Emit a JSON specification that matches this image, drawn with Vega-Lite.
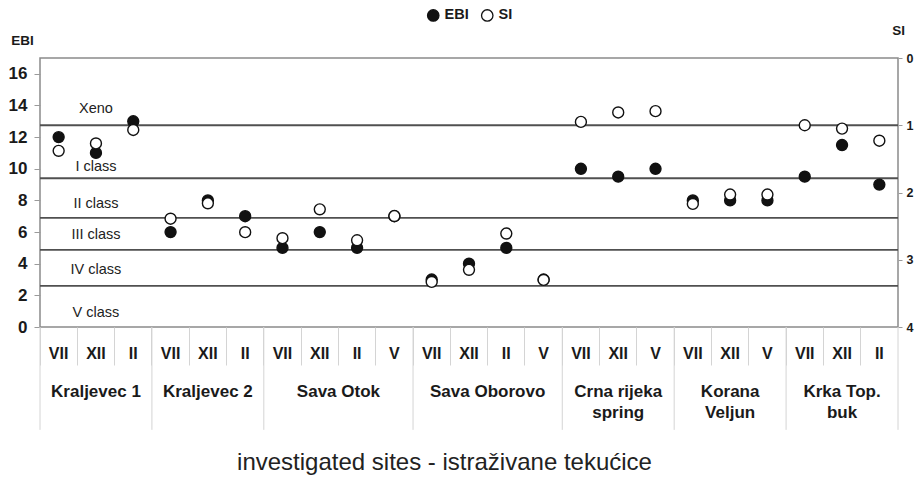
{
  "$schema": "https://vega.github.io/schema/vega-lite/v6.json",
  "width": 858,
  "height": 269,
  "autosize": "none",
  "padding": {"left": 40, "top": 58, "right": 18, "bottom": 155},
  "config": {
    "view": {"stroke": "#8a8a8a", "strokeWidth": 1.5},
    "font": "Liberation Sans",
    "axis": {"grid": false}
  },
  "datasets": {
    "samples": [
      {"col": 1, "site": "Kraljevec 1", "month": "VII", "sample": "Kraljevec 1|VII", "EBI": 12, "SI": 1.38},
      {"col": 2, "site": "Kraljevec 1", "month": "XII", "sample": "Kraljevec 1|XII", "EBI": 11, "SI": 1.27},
      {"col": 3, "site": "Kraljevec 1", "month": "II", "sample": "Kraljevec 1|II", "EBI": 13, "SI": 1.07},
      {"col": 4, "site": "Kraljevec 2", "month": "VII", "sample": "Kraljevec 2|VII", "EBI": 6, "SI": 2.39},
      {"col": 5, "site": "Kraljevec 2", "month": "XII", "sample": "Kraljevec 2|XII", "EBI": 8, "SI": 2.16},
      {"col": 6, "site": "Kraljevec 2", "month": "II", "sample": "Kraljevec 2|II", "EBI": 7, "SI": 2.59},
      {"col": 7, "site": "Sava Otok", "month": "VII", "sample": "Sava Otok|VII", "EBI": 5, "SI": 2.68},
      {"col": 8, "site": "Sava Otok", "month": "XII", "sample": "Sava Otok|XII", "EBI": 6, "SI": 2.25},
      {"col": 9, "site": "Sava Otok", "month": "II", "sample": "Sava Otok|II", "EBI": 5, "SI": 2.71},
      {"col": 10, "site": "Sava Otok", "month": "V", "sample": "Sava Otok|V", "EBI": 7, "SI": 2.35},
      {"col": 11, "site": "Sava  Oborovo", "month": "VII", "sample": "Sava  Oborovo|VII", "EBI": 3, "SI": 3.33},
      {"col": 12, "site": "Sava  Oborovo", "month": "XII", "sample": "Sava  Oborovo|XII", "EBI": 4, "SI": 3.15},
      {"col": 13, "site": "Sava  Oborovo", "month": "II", "sample": "Sava  Oborovo|II", "EBI": 5, "SI": 2.61},
      {"col": 14, "site": "Sava  Oborovo", "month": "V", "sample": "Sava  Oborovo|V", "EBI": 3, "SI": 3.3},
      {"col": 15, "site": "Crna rijeka\nspring", "month": "VII", "sample": "Crna rijeka spring|VII", "EBI": 10, "SI": 0.95},
      {"col": 16, "site": "Crna rijeka\nspring", "month": "XII", "sample": "Crna rijeka spring|XII", "EBI": 9.5, "SI": 0.81},
      {"col": 17, "site": "Crna rijeka\nspring", "month": "V", "sample": "Crna rijeka spring|V", "EBI": 10, "SI": 0.79},
      {"col": 18, "site": "Korana\nVeljun", "month": "VII", "sample": "Korana Veljun|VII", "EBI": 8, "SI": 2.17},
      {"col": 19, "site": "Korana\nVeljun", "month": "XII", "sample": "Korana Veljun|XII", "EBI": 8, "SI": 2.03},
      {"col": 20, "site": "Korana\nVeljun", "month": "V", "sample": "Korana Veljun|V", "EBI": 8, "SI": 2.03},
      {"col": 21, "site": "Krka Top.\nbuk", "month": "VII", "sample": "Krka Top. buk|VII", "EBI": 9.5, "SI": 1.0},
      {"col": 22, "site": "Krka Top.\nbuk", "month": "XII", "sample": "Krka Top. buk|XII", "EBI": 11.5, "SI": 1.05},
      {"col": 23, "site": "Krka Top.\nbuk", "month": "II", "sample": "Krka Top. buk|II", "EBI": 9, "SI": 1.23}
    ],
    "bounds": [
      {"EBI": 12.75}, {"EBI": 9.4}, {"EBI": 6.9}, {"EBI": 4.88}, {"EBI": 2.6}
    ],
    "classes": [
      {"label": "Xeno", "EBI": 13.8},
      {"label": "I class", "EBI": 10.1},
      {"label": "II class", "EBI": 7.8},
      {"label": "III class", "EBI": 5.8},
      {"label": "IV class", "EBI": 3.6},
      {"label": "V class", "EBI": 0.9}
    ]
  },
  "layer": [
    {
      "data": {"name": "bounds"},
      "mark": {"type": "rule", "color": "#505050", "strokeWidth": 1.8},
      "encoding": {
        "y": {"field": "EBI", "type": "quantitative", "scale": {"domain": [0, 17], "nice": false, "zero": false}, "axis": null}
      }
    },
    {
      "data": {"name": "classes"},
      "mark": {"type": "text", "fontSize": 14.5, "color": "#222222", "align": "center", "baseline": "middle"},
      "encoding": {
        "x": {"datum": 1.5, "type": "quantitative", "scale": {"domain": [0, 23], "nice": false, "zero": false}, "axis": null},
        "y": {"field": "EBI", "type": "quantitative", "scale": {"domain": [0, 17], "nice": false, "zero": false}, "axis": null},
        "text": {"field": "label"}
      }
    },
    {
      "data": {"name": "samples"},
      "transform": [
        {"aggregate": [{"op": "mean", "field": "col", "as": "center"}], "groupby": ["site"]}
      ],
      "mark": {"type": "text", "fontSize": 17, "fontWeight": "bold", "color": "#1a1a1a", "align": "center", "baseline": "top", "lineBreak": "\n", "lineHeight": 21},
      "encoding": {
        "x": {"field": "center", "type": "quantitative", "scale": {"domain": [0.5, 23.5], "nice": false, "zero": false}, "axis": null},
        "y": {"datum": -3.6, "type": "quantitative", "scale": {"domain": [0, 17], "nice": false, "zero": false}, "axis": null},
        "text": {"field": "site"}
      }
    },
    {
      "data": {"name": "samples"},
      "transform": [{"filter": "datum.month == 'VII'"}],
      "mark": {"type": "rule", "color": "#d4d4d4", "strokeWidth": 1},
      "encoding": {
        "x": {"field": "sample", "type": "nominal", "sort": null, "bandPosition": 0, "axis": null,
              "scale": {"type": "band", "paddingInner": 0, "paddingOuter": 0, "domain": {"data": "samples", "field": "sample"}}},
        "y": {"datum": 0, "type": "quantitative", "scale": {"domain": [0, 17], "nice": false, "zero": false}, "axis": null},
        "y2": {"datum": -6.5}
      }
    },
    {
      "data": {"name": "samples"},
      "transform": [{"filter": "datum.col == 23"}],
      "mark": {"type": "rule", "color": "#d4d4d4", "strokeWidth": 1},
      "encoding": {
        "x": {"field": "sample", "type": "nominal", "sort": null, "bandPosition": 1, "axis": null,
              "scale": {"type": "band", "paddingInner": 0, "paddingOuter": 0, "domain": {"data": "samples", "field": "sample"}}},
        "y": {"datum": 0, "type": "quantitative", "scale": {"domain": [0, 17], "nice": false, "zero": false}, "axis": null},
        "y2": {"datum": -6.5}
      }
    },
    {
      "data": {"name": "samples"},
      "mark": {"type": "circle", "size": 120, "stroke": "#111111", "strokeWidth": 1.4, "opacity": 1},
      "encoding": {
        "x": {
          "field": "sample", "type": "nominal", "sort": null,
          "scale": {"type": "band", "paddingInner": 0, "paddingOuter": 0},
          "axis": {
            "orient": "bottom",
            "domain": false,
            "bandPosition": 0,
            "tickColor": "#d4d4d4",
            "tickWidth": 1,
            "tickSize": 38,
            "labelExpr": "split(datum.label, '|')[1]",
            "labelAngle": 0,
            "labelFontSize": 16,
            "labelFontWeight": "bold",
            "labelColor": "#1a1a1a",
            "labelPadding": -12,
            "labelBaseline": "middle",
            "title": "investigated sites - istraživane tekućice",
            "titleFontSize": 24,
            "titleFontWeight": "normal",
            "titleColor": "#222222",
            "titleX": 404,
            "titleY": 135,
            "titleBaseline": "middle"
          }
        },
        "y": {
          "field": "EBI", "type": "quantitative",
          "scale": {"domain": [0, 17], "nice": false, "zero": false},
          "axis": {
            "orient": "left",
            "values": [0, 2, 4, 6, 8, 10, 12, 14, 16],
            "domain": false,
            "tickColor": "#9a9a9a",
            "tickSize": 6,
            "labelPadding": 7,
            "labelFontSize": 17,
            "labelFontWeight": "bold",
            "labelColor": "#1a1a1a",
            "title": "EBI",
            "titleAngle": 0,
            "titleX": -18,
            "titleY": -18,
            "titleAlign": "center",
            "titleBaseline": "middle",
            "titleFontSize": 13.5,
            "titleFontWeight": "bold",
            "titleColor": "#1a1a1a"
          }
        },
        "fill": {
          "datum": "EBI",
          "scale": {"domain": ["EBI", "SI"], "range": ["#111111", "#ffffff"]},
          "legend": {
            "orient": "none",
            "legendX": 386,
            "legendY": -50,
            "direction": "horizontal",
            "title": null,
            "symbolType": "circle",
            "symbolSize": 130,
            "symbolStrokeColor": "#111111",
            "symbolStrokeWidth": 1.3,
            "labelFontSize": 14.5,
            "labelFontWeight": "bold",
            "labelColor": "#1a1a1a",
            "labelOffset": 4,
            "columnPadding": 9,
            "padding": 0
          }
        }
      }
    },
    {
      "data": {"name": "samples"},
      "mark": {"type": "circle", "size": 120, "stroke": "#111111", "strokeWidth": 1.4, "opacity": 1},
      "encoding": {
        "x": {
          "field": "sample", "type": "nominal", "sort": null,
          "scale": {"type": "band", "paddingInner": 0, "paddingOuter": 0},
          "axis": null
        },
        "y": {
          "field": "SI", "type": "quantitative",
          "scale": {"domain": [0, 4], "reverse": true, "nice": false, "zero": false},
          "axis": {
            "orient": "right",
            "values": [0, 1, 2, 3, 4],
            "domain": false,
            "tickColor": "#9a9a9a",
            "tickSize": 4,
            "labelPadding": 4,
            "labelFontSize": 12.5,
            "labelFontWeight": "bold",
            "labelColor": "#1a1a1a",
            "title": "SI",
            "titleAngle": 0,
            "titleX": 0,
            "titleY": -28,
            "titleAlign": "center",
            "titleBaseline": "middle",
            "titleFontSize": 13.5,
            "titleFontWeight": "bold",
            "titleColor": "#1a1a1a"
          }
        },
        "fill": {"datum": "SI"}
      }
    }
  ],
  "resolve": {"scale": {"x": "independent", "y": "independent"}}
}
